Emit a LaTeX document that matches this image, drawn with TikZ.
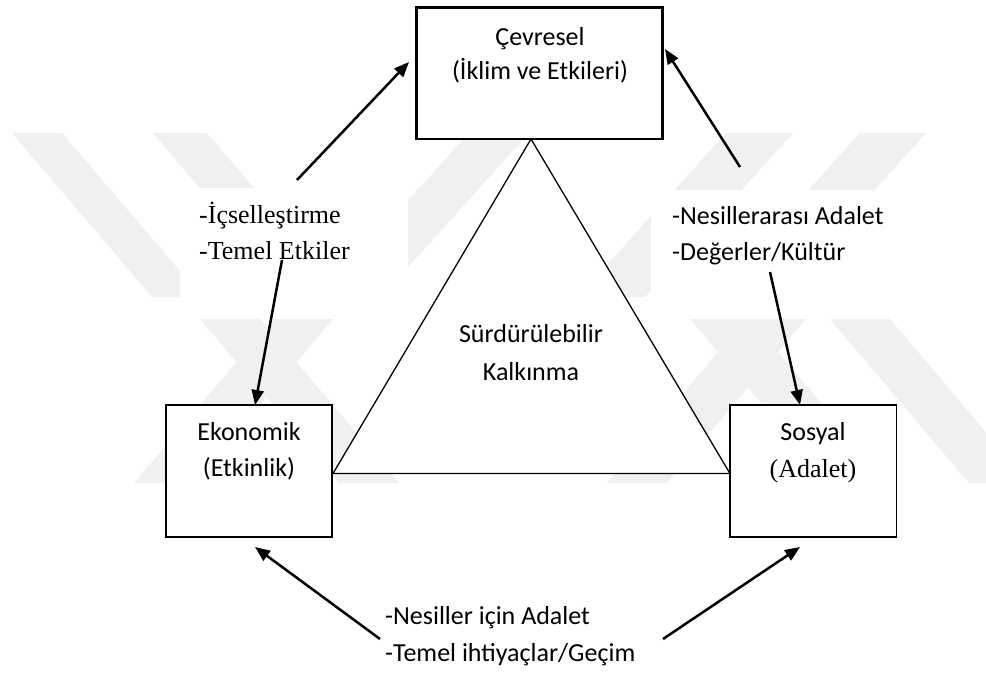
\documentclass[tikz,border=0pt]{standalone}
\usepackage{fontspec}
\setmainfont{Liberation Serif}
\newfontfamily\calfont{Carlito}
\usetikzlibrary{arrows.meta}
\begin{document}
\begin{tikzpicture}[x=1pt,y=-1pt,
  boxst/.style={draw, line width=1.6pt, fill=white, inner sep=0pt},
  arr/.style={line width=2.5pt, -{Triangle[length=15pt,width=12pt]}},
  tri/.style={line width=1.3pt, fill=white, line join=miter},
  wm/.style={fill=black!6, draw=none},
  cal/.style={font=\calfont\fontsize{26}{31}\selectfont, inner sep=0pt},
  tms/.style={font=\fontsize{26}{31}\selectfont, inner sep=0pt}]
\useasboundingbox (0,0) rectangle (986,673);
\fill[white] (0,0) rectangle (986,673);
% faint watermark bands
\fill[wm] (12,133) -- (62,133) -- (202,297) -- (152,297) -- cycle;
\fill[wm] (153,133) -- (207,133) -- (347,297) -- (293,297) -- cycle;
\fill[wm] (469,133) -- (529,133) -- (381,297) -- (321,297) -- cycle;
\fill[wm] (726,133) -- (793,133) -- (645,297) -- (578,297) -- cycle;
\fill[wm] (860,133) -- (926,133) -- (778,297) -- (712,297) -- cycle;
\fill[wm] (273,319) -- (333,319) -- (194,483) -- (134,483) -- cycle;
\fill[wm] (200,319) -- (260,319) -- (399,483) -- (339,483) -- cycle;
\fill[wm] (690,319) -- (750,319) -- (889,483) -- (829,483) -- cycle;
\fill[wm] (746,319) -- (806,319) -- (667,483) -- (607,483) -- cycle;
\fill[wm] (830,319) -- (890,319) -- (1029,483) -- (969,483) -- cycle;
% white label backgrounds
\fill[white] (180,188) rectangle (408,318);
\fill[white] (651,190) rectangle (873,318);
% boxes
\node[boxst, minimum width=245pt, minimum height=130.5pt] (cev) at (539.5,73.25) {};
\node[boxst, minimum width=166pt, minimum height=132pt] (eko) at (249,471) {};
\node[boxst, minimum width=166.5pt, minimum height=132pt] (sos) at (813.25,471) {};
% triangle
\coordinate (tA) at (531,139);
\coordinate (tL) at (333,473.5);
\coordinate (tR) at (730,473.5);
\draw[tri] (tA) -- (tL) -- (tR) -- cycle;
\draw[line width=1.6pt] (cev.south west) rectangle (cev.north east);
% texts
\node[cal, anchor=base] (t1) at (540,45) {Çevresel};
\node[cal, anchor=base] (t2) at (540,79) {(İklim ve Etkileri)};
\node[cal, anchor=base] (t3) at (249,440) {Ekonomik};
\node[cal, anchor=base] (t4) at (249,476) {(Etkinlik)};
\node[cal, anchor=base] (t5) at (813,440) {Sosyal};
\node[tms, anchor=base] (t6) at (813,477) {(Adalet)};
\node[cal, anchor=base] (t7) at (531,342) {Sürdürülebilir};
\node[cal, anchor=base] (t8) at (531,380) {Kalkınma};
\node[tms, anchor=base west] (l1) at (199,223) {-İçselleştirme};
\node[tms, anchor=base west] (l2) at (199,259) {-Temel Etkiler};
\node[cal, anchor=base west] (r1) at (672,224) {-Nesillerarası Adalet};
\node[cal, anchor=base west] (r2) at (672,260) {-Değerler/Kültür};
\node[cal, anchor=base west] (b1) at (385,624) {-Nesiller için Adalet};
\node[cal, anchor=base west] (b2) at (385,661) {-Temel ihtiyaçlar/Geçim};
% arrows
\coordinate (a1s) at (297,180); \coordinate (a1e) at (409,62);
\coordinate (a2s) at (282,260); \coordinate (a2e) at (255,405);
\coordinate (a3s) at (740,167); \coordinate (a3e) at (665,49);
\coordinate (a4s) at (770,272); \coordinate (a4e) at (800,405);
\coordinate (a5s) at (380,639); \coordinate (a5e) at (255,547);
\coordinate (a6s) at (663,639); \coordinate (a6e) at (800,547);
\draw[arr] (a1s) -- (a1e);
\draw[arr] (a2s) -- (a2e);
\draw[arr] (a3s) -- (a3e);
\draw[arr] (a4s) -- (a4e);
\draw[arr] (a5s) -- (a5e);
\draw[arr] (a6s) -- (a6e);
\end{tikzpicture}
\end{document}
